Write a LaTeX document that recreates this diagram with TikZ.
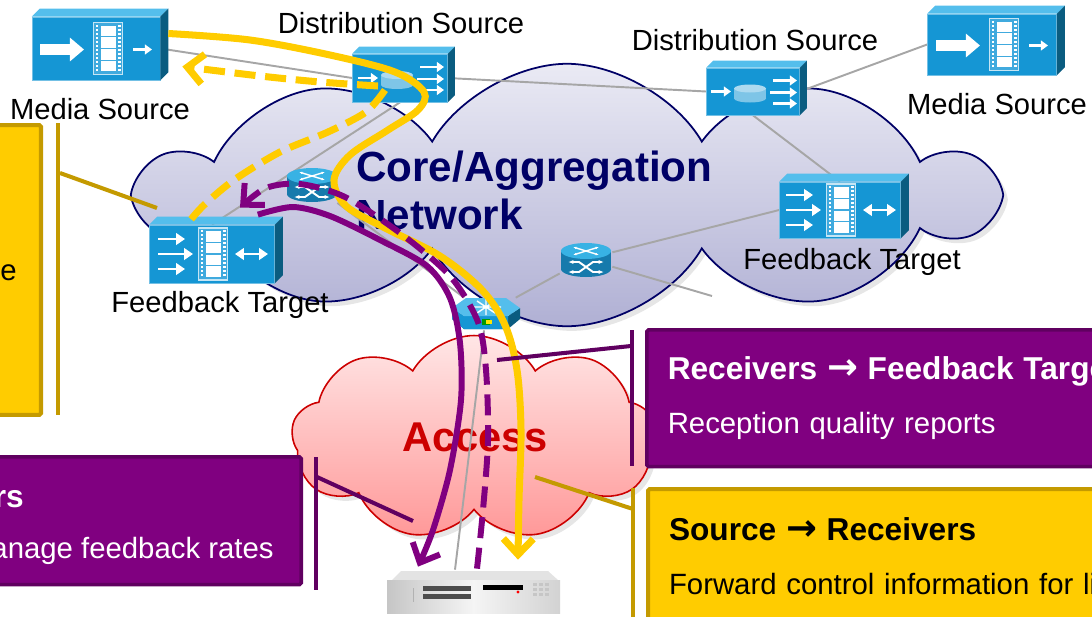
\documentclass[tikz,border=0pt]{standalone}
\usepackage{fontspec}
\setmainfont{Liberation Sans}
\newfontfamily\arrowfont{DejaVu Sans}
\usetikzlibrary{arrows.meta,positioning,calc,shapes.symbols,shadows,backgrounds}
\pgfdeclarelayer{netlinks}
\pgfsetlayers{background,netlinks,main}

\definecolor{devblue}{RGB}{21,150,212}
\definecolor{devtop}{RGB}{84,190,236}
\definecolor{devside}{RGB}{10,92,128}
\definecolor{stripblue}{RGB}{64,170,222}
\definecolor{rtbody}{RGB}{22,122,172}
\definecolor{rttop}{RGB}{56,178,228}
\definecolor{coretop}{RGB}{234,234,244}
\definecolor{corebot}{RGB}{176,176,212}
\definecolor{coreline}{RGB}{0,0,102}
\definecolor{acctop}{RGB}{255,230,230}
\definecolor{accbot}{RGB}{255,152,152}
\definecolor{accline}{RGB}{204,0,0}
\definecolor{flowyellow}{RGB}{255,204,0}
\definecolor{flowpurple}{RGB}{128,0,128}
\definecolor{boxpurple}{RGB}{128,0,128}
\definecolor{boxpurpleedge}{RGB}{96,0,96}
\definecolor{boxyellow}{RGB}{255,204,0}
\definecolor{boxyellowedge}{RGB}{196,154,0}
\definecolor{linkgray}{RGB}{166,166,166}

\newcommand{\cotitle}{\bfseries\fontsize{18}{22}\selectfont}
\newcommand{\cobody}{\fontsize{16.7}{20}\selectfont}
\newcommand{\coarrow}{{\arrowfont\bfseries\fontsize{21}{22}\selectfont →}}

% top and side faces of a device box
\newcommand{\devfaces}[2]{%
  \fill[devtop] (#1.north west) -- ++(#2,-#2) -- ($(#1.north east)+(#2,-#2)$) -- (#1.north east) -- cycle;
  \fill[devside] (#1.north east) -- ++(#2,-#2) -- ($(#1.south east)+(#2,-#2)$) -- (#1.south east) -- cycle;
}

% film strip centred at #1
\newcommand{\filmstrip}[1]{%
  \begin{scope}[shift={#1}]
    \fill[stripblue] (-14.5,-26) rectangle (14.5,26);
    \draw[white!75!devblue, line width=0.8pt] (-14.5,-26) rectangle (14.5,26);
    \foreach \k in {-24,-20,...,22} {
      \fill[white] (-12.5,\k) rectangle (-10,\k+2);
      \fill[white] (10,\k) rectangle (12.5,\k+2);
    }
    \foreach \k in {-23,-11.25,0.5,12.25}
      \fill[white] (-7.5,\k) rectangle (7.5,\k+10.5);
  \end{scope}
}

% media source panel
\newcommand{\mediaicon}[1]{%
  \begin{scope}[shift={(#1.center)}]
    \draw[white, line width=6.5pt, -{Triangle[length=8pt,width=13pt]}] (-56,1) -- (-12,1);
    \filmstrip{(12,0)}
    \draw[white, line width=1.4pt, -{Triangle[length=4pt,width=5.5pt]}] (37,1) -- (56,1);
  \end{scope}
}

% feedback target panel
\newcommand{\fticon}[1]{%
  \begin{scope}[shift={(#1.center)}]
    \foreach \yy/\xx in {-15/-27,0/-19,15/-27}
      \draw[white, line width=1.6pt, -{Triangle[length=5pt,width=6.5pt]}] (-54,\yy) -- (\xx,\yy);
    \filmstrip{(1,0)}
    \draw[white, line width=1.6pt, {Triangle[length=5pt,width=6.5pt]}-{Triangle[length=5pt,width=6.5pt]}] (23,0) -- (56,0);
  \end{scope}
}

% distribution source panel
\newcommand{\dsicon}[1]{%
  \begin{scope}[shift={(#1.center)}]
    \draw[white, line width=1.4pt, -{Triangle[length=4pt,width=5.5pt]}] (-42,0) -- (-22,0);
    \fill[devblue!55!white] (-19,-3) rectangle (13,7);
    \fill[devblue!55!white] (-3,7) ellipse [x radius=16, y radius=4];
    \fill[devblue!35!white] (-3,-3) ellipse [x radius=16, y radius=4];
    \foreach \yy/\xx in {-11/20,1/17,12/20}
      \draw[white, line width=1.4pt, -{Triangle[length=4pt,width=5.5pt]}] (\xx,\yy) -- (44,\yy);
  \end{scope}
}

% router cylinder
\newcommand{\routericon}[1]{%
  \begin{scope}[shift={(#1.center)}]
    \fill[rtbody] (-25,-8) rectangle (25,10);
    \fill[rtbody] (0,10) ellipse [x radius=25, y radius=8];
    \fill[rttop] (0,-8) ellipse [x radius=25, y radius=8];
    \draw[white, line width=0.8pt, {Latex[length=2pt]}-{Latex[length=2pt]}] (-13,-12) -- (13,-4);
    \draw[white, line width=0.8pt, {Latex[length=2pt]}-{Latex[length=2pt]}] (-13,-4) -- (13,-12);
    \draw[white, line width=1.1pt, {Latex[length=3pt]}-{Latex[length=3pt]}] (-18,13) -- (-7,13) -- (7,3) -- (18,3);
    \draw[white, line width=1.1pt, {Latex[length=3pt]}-{Latex[length=3pt]}] (-18,3) -- (-7,3) -- (7,13) -- (18,13);
  \end{scope}
}

\begin{document}
\begin{tikzpicture}[
    x=0.02cm, y=-0.02cm,
    >={Straight Barb[length=9pt,width=17pt]},
    dev/.style={rectangle, fill=devblue, draw=devblue!60!white, line width=0.4pt, inner sep=0},
    spot/.style={inner sep=0},
    lbl/.style={inner sep=0, font=\fontsize{16.6}{20}\selectfont},
    link/.style={draw=linkgray, line width=1.1pt},
    yflow/.style={draw=flowyellow, line width=4pt},
    pflow/.style={draw=flowpurple, line width=3.4pt},
    flowdash/.style={dash pattern=on 12pt off 5.5pt},
    callout/.style={rectangle, rounded corners=1pt, inner sep=0, anchor=north west,
        align=left, font=\cobody},
    pbox/.style={callout, fill=boxpurple, draw=boxpurpleedge, line width=2pt, text=white},
    ybox/.style={callout, fill=boxyellow, draw=boxyellowedge, line width=2.3pt, text=black},
    pbar/.style={draw=boxpurpleedge, line width=2.3pt},
    ybar/.style={draw=boxyellowedge, line width=2.3pt}
]
\path[use as bounding box] (0,0) rectangle (1092,616);
\clip (0,0) rectangle (1092,616);

% clouds
\begin{pgfonlayer}{background}
\node[cloud, cloud puffs=10, cloud puff arc=120, draw=coreline, line width=1pt,
    top color=coretop, bottom color=corebot,
    minimum width=17cm, minimum height=5.25cm,
    drop shadow={opacity=0.2}] (core) at (567,195) {};
\node[cloud, cloud puffs=9, cloud puff arc=120, draw=accline, line width=0.9pt,
    top color=acctop, bottom color=accbot,
    minimum width=7.3cm, minimum height=4.1cm,
    drop shadow={opacity=0.2}] (access) at (474,438) {};
\node[spot, anchor=west, align=left, text=coreline,
    font=\bfseries\fontsize{24}{27.3}\selectfont] (coretxt) at (356,190)
    {Core/Aggregation\\Network};
\node[spot, text=accline, font=\bfseries\fontsize{23.7}{27}\selectfont] (acctxt) at (475,437) {Access};
\end{pgfonlayer}

% sources
\node[dev, minimum width=2.56cm, minimum height=1.26cm] (ms1) at (96,48.5) {};
\devfaces{ms1}{8}
\mediaicon{ms1}
\node[lbl] (ms1lbl) at (100,109) {Media Source};

\node[dev, minimum width=2.58cm, minimum height=1.22cm] (ms2) at (992,44.5) {};
\devfaces{ms2}{8}
\mediaicon{ms2}
\node[lbl] (ms2lbl) at (997,104) {Media Source};

\node[dev, minimum width=1.9cm, minimum height=0.96cm] (ds1) at (400,78) {};
\devfaces{ds1}{7}
\dsicon{ds1}
\node[lbl] (ds1lbl) at (401,23) {Distribution Source};

\node[dev, minimum width=1.86cm, minimum height=0.94cm] (ds2) at (753,91.5) {};
\devfaces{ds2}{7}
\dsicon{ds2}
\node[lbl] (ds2lbl) at (755,40) {Distribution Source};

% feedback targets
\node[dev, minimum width=2.5cm, minimum height=1.16cm] (ft1) at (212,254) {};
\devfaces{ft1}{8}
\fticon{ft1}
\node[lbl] (ft1lbl) at (220,305) {Feedback Target};

\node[dev, minimum width=2.42cm, minimum height=1.12cm] (ft2) at (840,210) {};
\devfaces{ft2}{8}
\fticon{ft2}
\node[lbl] (ft2lbl) at (852,262) {Feedback Target};

% routers and switch
\node[spot, minimum width=1cm, minimum height=0.76cm] (r1) at (312,184) {};
\routericon{r1}
\node[spot, minimum width=1.04cm, minimum height=0.8cm] (r2) at (586,259) {};
\routericon{r2}

\node[spot, minimum width=1.4cm, minimum height=0.64cm] (sw) at (486,314) {};
\begin{scope}[shift={(sw.center)}]
  \fill[devside] (-34,-6) -- (-22,2) -- (22,2) -- (34,-6) -- (34,5) -- (22,15) -- (-22,15) -- (-34,5) -- cycle;
  \fill[devblue] (-34,-6) -- (-22,2) -- (22,2) -- (22,15) -- (-22,15) -- (-34,5) -- cycle;
  \fill[devtop] (-34,-6) -- (-20,-16) -- (20,-16) -- (34,-6) -- (22,2) -- (-22,2) -- cycle;
  \draw[white, line width=0.8pt] (-15,-7) -- (15,-7) (-9,-13) -- (9,-1) (9,-13) -- (-9,-1) (0,-15) -- (0,1);
  \fill[green!60!black] (-4,5) rectangle (4,11);
  \fill[yellow!90!orange] (0,6) rectangle (6,10);
\end{scope}

% receiver
\node[spot, minimum width=3.46cm, minimum height=0.88cm] (rcv) at (473,592) {};
\begin{scope}[shift={(rcv.center)}]
  \fill[gray!22] (-81,-12) -- (-72,-21) -- (75,-21) -- (85,-12) -- cycle;
  \shade[left color=gray!45, right color=gray!35, middle color=gray!8] (-86,-12) rectangle (87,21);
  \draw[gray!60] (-60,-4) -- (-60,10);
  \fill[gray!60!black] (-50,-6) rectangle (-2,-1);
  \fill[gray!60!black] (-50,2) rectangle (-2,7);
  \fill[black] (10,-7) rectangle (50,-2);
  \fill[red] (45,0) circle (1.6);
  \foreach \i in {0,1,2}
    \foreach \j in {0,1,2}
      \fill[gray!45] (60+\i*6,-9+\j*5) rectangle ++(4,3);
\end{scope}

\coordinate (r2end) at (712,296);

% links
\begin{pgfonlayer}{netlinks}
\draw[link] (ms1.east) -- (ds1.west);
\draw[link] (ds1.east) -- (ds2.west);
\draw[link] (ds2.east) -- (ms2.west);
\draw[link] (ds2.south) -- (ft2.north);
\draw[link] (ds1.south) -- (ft1.north);
\draw[link] (r1) -- (sw);
\draw[link] (r2) -- (sw);
\draw[link] (r2) -- (ft2.west);
\draw[link] (r2) -- (r2end);
\draw[link] (sw) -- ($(rcv.north)+(-18,0)$);
\end{pgfonlayer}

% source -> receivers
\draw[yflow, ->] plot[smooth, tension=0.55] coordinates {($(ms1.east)+(8,-15)$) (250,40) (330,55)
    (395,72) (424,92) (418,110) (388,130) (350,155) (334,180) (346,206) (385,228) (440,256)
    (482,290) (505,325) (517,370) (521,430) (519,500) ($(rcv.north)+(45,-10)$)};
\draw[yflow, flowdash, ->] plot[smooth] coordinates {($(ds1.center)+(-22,8)$) (320,82) (260,76)
    ($(ms1.east)+(22,18)$)};
\draw[yflow, flowdash] plot[smooth] coordinates {($(ds1.center)+(-15,12)$) (366,112) (328,132)
    (280,152) (234,180) (204,205) ($(ft1.north)+(-22,-4)$)};

% feedback paths
\draw[pflow, ->] plot[smooth] coordinates {($(ft1.north east)+(-17,-10)$) (293,207) (330,216)
    (380,240) (427,266) (450,298) (460,343) (461,400) (450,470) (433,530) ($(rcv.north)+(-55,-3)$)};
\draw[pflow, flowdash, ->] plot[smooth] coordinates {($(rcv.north)+(4,-1)$) (483,510) (488,440)
    (486,370) (478,322) (450,276) (400,233) (345,197) (300,184) (266,188) ($(ft1.north)+(28,-17)$)};

% callouts
\node[ybox, anchor=north east, minimum width=4cm, minimum height=5.8cm] (lyb) at (43,123) {};
\node[spot, font=\cobody, anchor=base east] (lybt) at (17,280) {e};
\coordinate (lybtip) at (157,208);
\draw[ybar] ($(lyb.north east)+(15,0)$) -- ($(lyb.south east)+(15,-2)$);
\draw[ybar] (lybtip) -- ($(lyb.north east)+(17,50)$);

\node[pbox, anchor=north east, minimum width=8cm, minimum height=2.56cm] (lpb) at (303,455) {};
\node[spot, text=white, font=\cotitle, anchor=base east] (lpbt) at (24,507) {rs};
\node[spot, text=white, font=\cobody, anchor=base east] (lpbb) at (274,558) {anage feedback rates};
\coordinate (lpbtip) at (413,521);
\draw[pbar] ($(lpb.north east)+(13,2)$) -- ($(lpb.south east)+(13,4)$);
\draw[pbar] (lpbtip) -- ($(lpb.north east)+(14,22)$);

\node[pbox, minimum width=10cm, minimum height=2.74cm, text width=9.16cm, inner xsep=0.42cm] (rxfb) at (645,328)
    {{\cotitle Receivers \coarrow{} Feedback Targe}\\[10.7pt]Reception quality reports};
\coordinate (rxfbtip) at (497,360);
\draw[pbar] ($(rxfb.north west)+(-13,2)$) -- ($(rxfb.south west)+(-13,-2)$);
\draw[pbar] (rxfbtip) -- ($(rxfb.north west)+(-14,18)$);

\node[ybox, minimum width=10cm, minimum height=2.82cm, text width=9.16cm, inner xsep=0.42cm] (srb) at (646,487)
    {{\cotitle Source \coarrow{} Receivers}\\[10.7pt]Forward control information for lip};
\coordinate (srbtip) at (535,477);
\draw[ybar] ($(srb.north west)+(-13,1)$) -- ($(srb.south west)+(-13,0)$);
\draw[ybar] (srbtip) -- ($(srb.north west)+(-13,22)$);

\end{tikzpicture}
\end{document}
